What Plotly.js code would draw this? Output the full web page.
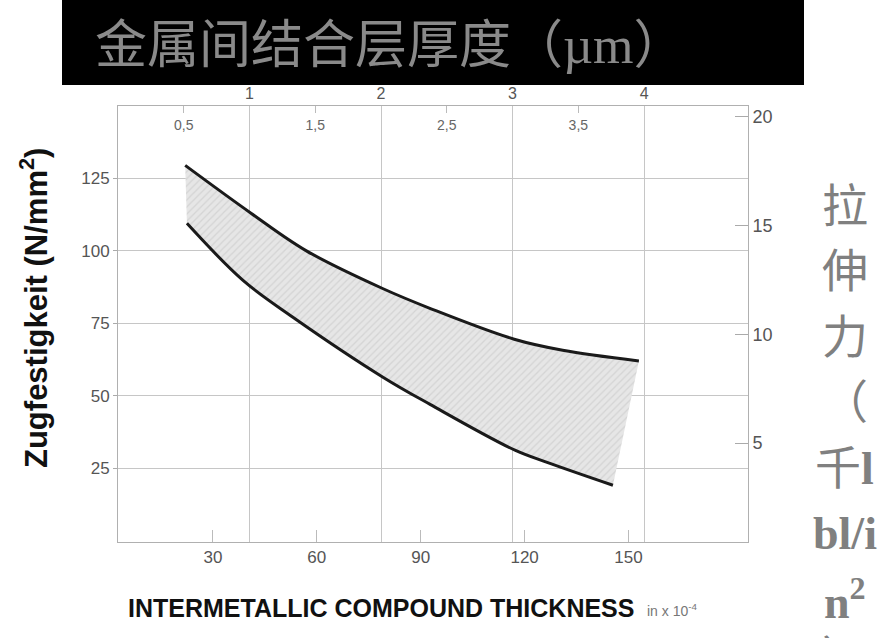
<!DOCTYPE html>
<html>
<head>
<meta charset="utf-8">
<script src="https://cdn.plot.ly/plotly-3.0.1.min.js"></script>
<style>html,body{margin:0;padding:0;background:#fff;}</style>
</head>
<body>
<div id="chart" style="width:883px;height:638px;"></div>
<script>
// Upper and lower bounds of the tensile-strength band (x: thickness in x10^-4 in, y: N/mm^2)
const upperX = [22, 41, 57, 79, 93, 117, 131, 153];
const upperY = [129.5, 113, 100, 87, 80, 69.5, 65.7, 62];
const lowerX = [22.5, 38.7, 53.1, 79.1, 92.7, 117.2, 126.5, 145.5];
const lowerY = [109.5, 89.8, 77.1, 56.4, 47.0, 31.2, 27.0, 19.1];

// Tick values / labels
const bottomTicks = [30, 60, 90, 120, 150];
const leftTicks = [25, 50, 75, 100, 125];
const rightTicks = [5, 10, 15, 20];
const topTicks = [1, 2, 3, 4];
const topMinorTicks = [0.5, 1.5, 2.5, 3.5];
const topMinorLabels = ['0,5', '1,5', '2,5', '3,5'];

// Texts
const titleText = '金属间结合层厚度（µm）';
const rightLabelLines = ['拉', '伸', '力', '（', '千<b>l</b>', '<b>bl/i</b>', '<b>n<sup>2</sup></b>', '）'];
const yTitle = '<b>Zugfestigkeit (N/mm<sup>2</sup>)</b>';
const xTitle = '<b>INTERMETALLIC COMPOUND THICKNESS</b>';
const xUnit = 'in x 10<sup>-4</sup>';

const bandX = upperX.concat(lowerX.slice().reverse());
const bandY = upperY.concat(lowerY.slice().reverse());

const sansFam = "'Liberation Sans', Arial, sans-serif";
const tickFont = {family: sansFam, size: 17, color: '#555'};
const frameColor = '#b0b0b0';
const gridColor = '#c6c6c6';

const traces = [
  {x: bandX, y: bandY, mode: 'none', fill: 'toself', fillcolor: '#e4e4e4',
   fillpattern: {shape: '/', bgcolor: '#e6e6e6', fgcolor: '#d4d4d4', size: 5, solidity: 0.25},
   hoverinfo: 'skip', showlegend: false, xaxis: 'x', yaxis: 'y'},
  {x: upperX, y: upperY, mode: 'lines', line: {color: '#1a1a1a', width: 3, shape: 'spline', smoothing: 1},
   showlegend: false, xaxis: 'x', yaxis: 'y'},
  {x: lowerX, y: lowerY, mode: 'lines', line: {color: '#1a1a1a', width: 3, shape: 'spline', smoothing: 1},
   showlegend: false, xaxis: 'x', yaxis: 'y'},
  {x: [null], y: [null], xaxis: 'x2', yaxis: 'y', showlegend: false, hoverinfo: 'skip'},
  {x: [null], y: [null], xaxis: 'x3', yaxis: 'y', showlegend: false, hoverinfo: 'skip'},
  {x: [null], y: [null], xaxis: 'x', yaxis: 'y2', showlegend: false, hoverinfo: 'skip'}
];

const plotL = 118, plotR = 748, plotT = 106, plotB = 542;
const pw = plotR - plotL, ph = plotB - plotT;
const px = v => (v - plotL) / pw;
const py = v => (plotB - v) / ph;

const annotations = [
  {text: titleText, xref: 'paper', yref: 'paper', x: px(93), y: py(45), xanchor: 'left', yanchor: 'middle',
   showarrow: false, font: {family: "'Liberation Serif', 'Noto Sans CJK SC', serif", size: 52, color: '#8a8a8a'}},
  {text: yTitle, xref: 'paper', yref: 'paper', x: px(34), y: py(308), xanchor: 'center', yanchor: 'middle',
   textangle: -90, showarrow: false, font: {family: sansFam, size: 31, color: '#111'}},
  {text: xTitle, xref: 'paper', yref: 'paper', x: px(126), y: py(608), xanchor: 'left', yanchor: 'middle',
   showarrow: false, font: {family: sansFam, size: 25, color: '#111'}},
  {text: xUnit, xref: 'paper', yref: 'paper', x: px(645), y: py(610), xanchor: 'left', yanchor: 'middle',
   showarrow: false, font: {family: sansFam, size: 14, color: '#777'}}
];
const lineCenters = [206, 271.5, 337, 402.5, 468, 533.5, 599, 658];
rightLabelLines.forEach((t, i) => {
  annotations.push({text: t, xref: 'paper', yref: 'paper', x: px(845), y: py(lineCenters[i]),
    xanchor: 'center', yanchor: 'middle', showarrow: false,
    font: {family: "'Liberation Serif', 'Noto Sans CJK SC', serif", size: 46, color: '#808080'}});
});

const layout = {
  width: 883, height: 638,
  margin: {l: plotL, r: 883 - plotR, t: plotT, b: 638 - plotB, pad: 0},
  paper_bgcolor: '#fff', plot_bgcolor: '#fff',
  showlegend: false,
  xaxis: {range: [2.6, 184.5], tickvals: bottomTicks, ticks: 'inside', ticklen: 12, tickcolor: '#bbb',
    showgrid: false, zeroline: false, showline: true, linecolor: frameColor, tickfont: tickFont},
  xaxis2: {overlaying: 'x', side: 'top', anchor: 'y', range: [0, 4.79], tickvals: topTicks, ticks: '',
    showgrid: true, gridcolor: gridColor, zeroline: false, showline: true, linecolor: frameColor,
    tickfont: {family: sansFam, size: 16, color: '#555'}},
  xaxis3: {overlaying: 'x', side: 'top', anchor: 'y', range: [0, 4.79], tickvals: topMinorTicks, ticktext: topMinorLabels,
    ticks: 'inside', ticklen: 7, tickcolor: '#bbb', ticklabelposition: 'inside', ticklabelstandoff: 7,
    showgrid: false, zeroline: false, showline: false, tickfont: {family: sansFam, size: 14, color: '#666'}},
  yaxis: {range: [-0.5, 150], tickvals: leftTicks, ticks: 'outside', ticklen: 4, tickcolor: '#aaa',
    showgrid: true, gridcolor: gridColor, zeroline: false, showline: true, linecolor: frameColor, tickfont: tickFont},
  yaxis2: {overlaying: 'y', side: 'right', anchor: 'x', range: [0.45, 20.5], tickvals: rightTicks, ticks: 'inside', ticklen: 13,
    tickcolor: '#aaa', showgrid: false, zeroline: false, showline: true, linecolor: frameColor,
    tickfont: {family: sansFam, size: 18, color: '#555'}},
  shapes: [
    {type: 'rect', xref: 'paper', yref: 'paper', x0: px(62), x1: px(804), y0: py(85), y1: py(0),
     fillcolor: '#000', line: {width: 0}, layer: 'below'}
  ],
  annotations: annotations
};

Plotly.newPlot('chart', traces, layout, {staticPlot: true, displayModeBar: false});
</script>
</body>
</html>
